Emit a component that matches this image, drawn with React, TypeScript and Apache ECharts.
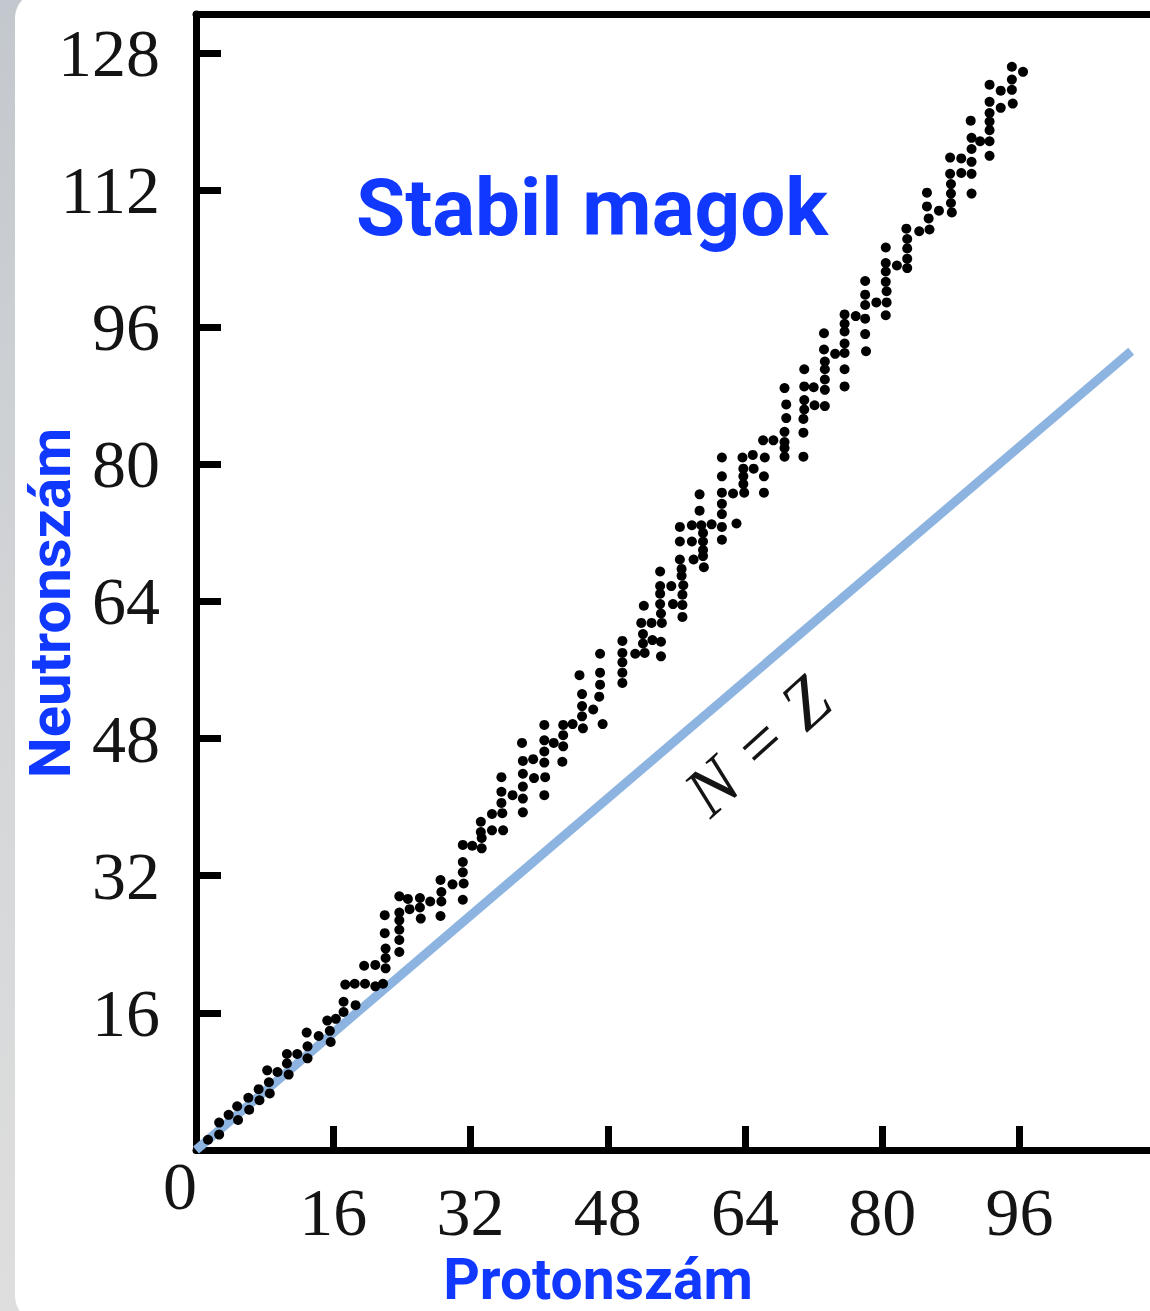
import React, { useEffect, useRef } from "react";
import * as echarts from "echarts";

// Tick values shown on the axes
const xTickValues = [16, 32, 48, 64, 80, 96];
const yTickValues = [16, 32, 48, 64, 80, 96, 112, 128];

// The blue reference line labelled N = Z (end points)
const nEqualsZLine = [
  [0, 0],
  [109, 93.2],
];

// Stable nuclei, [proton number, neutron number]
const lightNuclei = [
  [1.4, 1.2], [2.7, 1.8], [2.7, 3.2], [3.8, 4.1], [4.9, 3.5], [4.8, 5.1], [6.1, 6.1], [6.2, 4.7], [7.3, 7.1], [7.4, 5.8],
  [8.3, 9.3], [8.5, 7.9], [8.6, 6.6], [9.5, 9.1], [10.6, 11.2], [10.6, 10.1], [10.8, 8.8], [11.8, 11.2], [12.9, 13.7], [13.0, 12.1],
  [13.0, 10.7], [14.3, 13.3], [15.3, 15.1], [15.6, 13.9], [15.7, 12.6], [16.3, 15.3], [17.2, 17.3], [17.2, 16.1], [18.6, 16.9], [17.4, 19.3],
  [18.5, 19.4], [19.7, 19.4], [20.9, 19.1], [21.8, 19.4], [19.6, 21.5], [20.9, 21.6], [22.1, 21.2], [22.1, 22.4], [22.1, 23.5], [22.0, 25.3],
  [22.0, 27.4], [23.7, 23.1], [23.7, 24.5], [23.7, 25.7], [23.7, 26.8], [23.7, 27.7], [23.7, 29.6], [24.7, 29.3], [24.9, 28.1], [26.1, 29.4],
  [26.1, 28.3], [26.2, 27.0], [27.3, 29.0], [28.5, 31.5], [28.6, 30.1], [28.6, 29.0], [28.5, 27.3], [29.9, 31.0], [31.1, 35.6], [31.1, 33.6],
  [31.1, 32.4], [31.2, 31.1], [31.1, 29.2], [32.2, 35.5], [33.3, 35.2], [33.2, 38.3], [33.2, 37.1], [33.3, 36.4], [34.5, 39.2], [34.5, 37.3],
];

const mediumNuclei = [
  [35.7, 39.3], [35.8, 37.3], [35.6, 40.5], [35.6, 41.8], [35.6, 43.5], [36.9, 41.4], [38.1, 39.4], [38.1, 41.0], [38.1, 42.4], [38.1, 43.9],
  [38.1, 45.4], [38.0, 47.5], [39.3, 45.6], [39.4, 43.4], [40.6, 41.4], [40.7, 43.5], [40.6, 45.2], [40.6, 46.5], [40.6, 47.8], [40.6, 49.6],
  [41.7, 47.5], [42.7, 45.3], [42.8, 47.1], [42.8, 48.4], [42.8, 49.6], [43.9, 49.7], [44.7, 55.4], [45.0, 53.2], [45.0, 51.8], [45.0, 50.6],
  [45.1, 49.2], [46.3, 51.4], [47.1, 57.9], [47.1, 55.7], [47.1, 54.3], [47.0, 52.9], [47.4, 49.7], [49.7, 59.4], [49.7, 58.0], [49.7, 56.9],
  [49.7, 55.7], [49.7, 54.5], [51.2, 57.9], [52.2, 63.5], [51.9, 61.5], [53.1, 61.5], [54.3, 61.5], [52.1, 60.2], [52.1, 59.1], [53.2, 59.5],
  [52.3, 58.0], [54.2, 59.3], [54.2, 57.6], [54.2, 62.6], [54.1, 63.7], [54.1, 64.9], [54.1, 65.8], [54.1, 67.5], [55.4, 65.8], [55.6, 63.7],
  [56.6, 67.8], [56.6, 67.0], [56.8, 65.9], [56.7, 64.8], [56.7, 63.6], [56.7, 62.2], [56.4, 68.9], [56.4, 71.0], [56.4, 72.7], [57.8, 71.0],
  [58.0, 68.9], [57.8, 72.9], [58.9, 72.9], [59.1, 72.0], [59.1, 71.0], [59.1, 70.0], [59.1, 69.3], [59.2, 68.0], [60.1, 73.0], [58.7, 76.5],
  [58.7, 74.6], [61.3, 78.6], [61.3, 76.7], [61.3, 75.4], [61.3, 74.2], [61.3, 72.7], [61.3, 71.2], [62.6, 76.6], [63.0, 73.1], [61.3, 80.8],
];

const heavyNuclei = [
  [63.7, 80.8], [63.8, 79.5], [63.8, 78.6], [63.8, 77.7], [63.9, 76.7], [64.9, 81.1], [65.0, 79.5], [66.3, 80.8], [66.2, 78.6], [66.2, 76.7],
  [66.1, 82.8], [67.3, 82.8], [68.6, 82.6], [68.6, 81.9], [68.6, 80.9], [68.6, 83.8], [68.8, 85.4], [68.8, 87.0], [68.6, 88.9], [70.8, 80.9],
  [70.8, 83.7], [70.8, 85.3], [70.9, 86.4], [70.9, 87.5], [70.9, 89.1], [70.9, 91.1], [72.0, 89.0], [72.1, 86.9], [73.3, 86.8], [73.3, 88.7],
  [73.3, 89.9], [73.3, 91.1], [73.3, 92.0], [73.2, 93.4], [73.2, 95.3], [74.5, 92.9], [75.6, 93.0], [75.6, 94.1], [75.6, 95.5], [75.6, 96.4],
  [75.6, 97.5], [76.9, 97.3], [75.6, 91.1], [75.6, 89.1], [78.0, 101.4], [78.0, 99.8], [78.0, 98.6], [78.0, 97.0], [78.0, 95.2], [78.1, 93.2],
  [79.3, 98.9], [80.4, 105.3], [80.4, 103.5], [80.4, 102.5], [80.4, 101.3], [80.5, 100.2], [80.5, 98.9], [80.4, 97.4], [81.7, 103.2], [82.8, 107.5],
  [82.9, 106.3], [82.9, 105.2], [82.9, 104.0], [82.9, 102.9], [84.3, 107.2], [85.2, 111.7], [85.2, 110.1], [85.4, 108.7], [85.5, 107.4], [86.6, 109.6],
  [87.9, 115.8], [87.9, 113.9], [88.0, 112.7], [88.0, 111.6], [88.0, 110.5], [88.1, 109.4], [89.2, 115.7], [89.2, 114.0], [90.4, 115.3], [90.4, 113.9],
  [90.4, 111.6], [90.4, 116.8], [90.4, 118.1], [91.4, 117.7], [90.3, 120.1], [92.5, 124.3], [92.5, 122.3], [92.5, 121.0], [92.5, 120.0], [92.5, 119.0],
  [92.5, 117.7], [92.5, 116.0], [93.8, 123.6], [93.8, 121.6], [95.1, 126.4], [95.1, 124.9], [95.1, 123.7], [95.2, 122.1], [96.4, 125.8],
];

const X_MAX = 111.2;
const Y_MAX = 132.55;

export default function App() {
  const ref = useRef<HTMLDivElement>(null);

  useEffect(() => {
    if (!ref.current) return;
    const chart = echarts.init(ref.current, null, { renderer: "svg" });
    const blue = "#1038ff";
    const serif = "'Liberation Serif', 'Times New Roman', serif";
    const sans = "Roboto, 'Noto Sans', sans-serif";
    const axisLineStyle = { color: "#000", width: 7, cap: "round" };

    chart.setOption({
      animation: false,
      backgroundColor: "transparent",
      grid: { left: 196, top: 14, right: 0, bottom: 161, containLabel: false },
      xAxis: [
        {
          type: "value",
          min: 0,
          max: X_MAX,
          position: "bottom",
          axisLine: { show: true, onZero: false, lineStyle: axisLineStyle },
          axisTick: {
            show: true,
            inside: true,
            length: 24,
            customValues: xTickValues,
            lineStyle: { color: "#000", width: 7 },
          },
          axisLabel: {
            show: true,
            customValues: xTickValues,
            margin: 28,
            color: "#141414",
            fontFamily: serif,
            fontSize: 68,
          },
          splitLine: { show: false },
        },
        {
          type: "value",
          min: 0,
          max: X_MAX,
          position: "top",
          axisLine: { show: true, onZero: false, lineStyle: axisLineStyle },
          axisTick: { show: false },
          axisLabel: { show: false },
          splitLine: { show: false },
        },
      ],
      yAxis: {
        type: "value",
        min: 0,
        max: Y_MAX,
        position: "left",
        axisLine: { show: true, onZero: false, lineStyle: axisLineStyle },
        axisTick: {
          show: true,
          inside: true,
          length: 25,
          customValues: yTickValues,
          lineStyle: { color: "#000", width: 7 },
        },
        axisLabel: {
          show: true,
          customValues: yTickValues,
          margin: 36,
          color: "#141414",
          fontFamily: serif,
          fontSize: 68,
        },
        splitLine: { show: false },
      },
      series: [
        {
          type: "line",
          data: nEqualsZLine,
          xAxisIndex: 0,
          symbol: "none",
          showSymbol: false,
          lineStyle: { color: "#8db4e0", width: 9, cap: "butt" },
          z: 2,
          silent: true,
        },
        {
          type: "scatter",
          data: [...lightNuclei, ...mediumNuclei, ...heavyNuclei],
          xAxisIndex: 0,
          symbol: "circle",
          symbolSize: 10,
          itemStyle: { color: "#000000", opacity: 1 },
          z: 3,
        },
      ],
      graphic: [
        {
          type: "rect",
          z: -10,
          silent: true,
          shape: { x: 0, y: 0, width: 1150, height: 1311 },
          style: {
            fill: {
              type: "linear",
              x: 0,
              y: 0,
              x2: 0,
              y2: 1,
              colorStops: [
                { offset: 0, color: "#c3c8ce" },
                { offset: 0.5, color: "#d3d5d7" },
                { offset: 1, color: "#dedede" },
              ],
            },
          },
        },
        {
          type: "rect",
          z: -9,
          silent: true,
          shape: { x: 15, y: -8, width: 1200, height: 1330, r: 26 },
          style: { fill: "#ffffff" },
        },
        {
          type: "text",
          x: 592,
          y: 208,
          style: {
            text: "Stabil magok",
            fill: blue,
            fontFamily: sans,
            fontWeight: "bold",
            fontSize: 80,
            align: "center",
            verticalAlign: "middle",
            textAlign: "center",
            textVerticalAlign: "middle",
          },
        },
        {
          type: "text",
          x: 50,
          y: 603,
          rotation: Math.PI / 2,
          style: {
            text: "Neutronszám",
            fill: blue,
            fontFamily: sans,
            fontWeight: "bold",
            fontSize: 58,
            align: "center",
            verticalAlign: "middle",
            textAlign: "center",
            textVerticalAlign: "middle",
          },
        },
        {
          type: "text",
          x: 598,
          y: 1279,
          style: {
            text: "Protonszám",
            fill: blue,
            fontFamily: sans,
            fontWeight: "bold",
            fontSize: 57,
            align: "center",
            verticalAlign: "middle",
            textAlign: "center",
            textVerticalAlign: "middle",
          },
        },
        {
          type: "text",
          x: 180,
          y: 1186,
          style: {
            text: "0",
            fill: "#141414",
            fontFamily: serif,
            fontSize: 68,
            align: "center",
            verticalAlign: "middle",
            textAlign: "center",
            textVerticalAlign: "middle",
          },
        },
        {
          type: "text",
          x: 757,
          y: 746,
          rotation: (42 * Math.PI) / 180,
          style: {
            text: "N = Z",
            fill: "#141414",
            fontFamily: serif,
            fontStyle: "italic",
            fontSize: 70,
            align: "center",
            verticalAlign: "middle",
            textAlign: "center",
            textVerticalAlign: "middle",
          },
        },
      ],
    });

    return () => {
      chart.dispose();
    };
  }, []);

  return (
    <div
      ref={ref}
      style={{ position: "fixed", left: 0, top: 0, width: 1150, height: 1311 }}
    />
  );
}
